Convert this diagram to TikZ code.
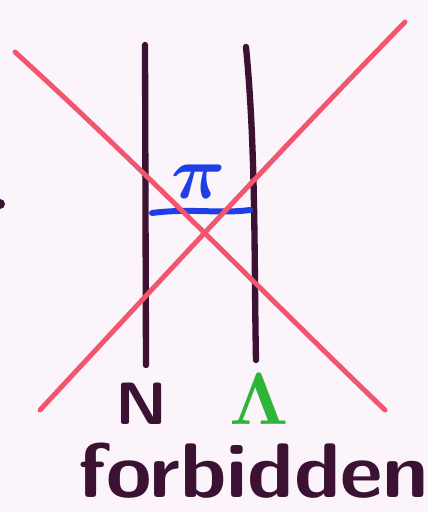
\documentclass[tikz,border=0pt]{standalone}
\usepackage{amsmath, amssymb}
\usepackage{fontspec}
\usepackage{tikz}
\definecolor{ink}{HTML}{3B1233}
\definecolor{cross}{HTML}{F2556E}
\definecolor{pion}{HTML}{1E3FE6}
\definecolor{lam}{HTML}{2FB43A}
\definecolor{paper}{HTML}{FBF4FA}
\tikzset{
  fermion/.style={ink, line width=3.6pt, line cap=round},
  strike/.style={cross, line width=2.8pt, line cap=round},
  tag/.style={inner sep=0pt, font=\fontsize{34}{40}\selectfont\sffamily\bfseries},
  sym/.style={inner sep=0pt, font=\normalsize},
}
\begin{document}
\begin{tikzpicture}[x=0.02cm, y=-0.02cm]

% paper
\fill[paper] (0,0) rectangle (428,512);
\useasboundingbox (0,0) rectangle (428,512);

% stray dot at the edge
\fill[ink] (0,204) circle (5);

% baryon lines
\coordinate (nTop) at (145,45);
\coordinate (nBot) at (146,365);
\coordinate (lTop) at (246,47);
\coordinate (lBot) at (256,360);
\draw[fermion] (nTop) -- (nBot);
\draw[fermion] (lTop) .. controls (256,150) and (254,260) .. (lBot);

% pion exchange
\coordinate (piL) at (152,213);
\coordinate (piR) at (250,210);
\draw[pion, line width=3.4pt, line cap=round] (piL) .. controls (190,208) and (220,214) .. (piR);
\node[pion, sym] (pi) at (199,182) {\scalebox{4.3}{$\boldsymbol{\pi}$}};

% labels
\node[ink, tag, anchor=base, xscale=1.1] (N) at (142,424) {N};
\node[lam, sym, anchor=base] (L) at (259,424) {\scalebox{4.2}{$\boldsymbol{\Lambda}$}};
\node[ink, tag, anchor=base, xscale=1.07, font=\fontsize{44}{50}\selectfont\sffamily\bfseries] (forb) at (254,497) {forbidden};

% the cross
\coordinate (x1) at (15,52);
\coordinate (x2) at (385,410);
\coordinate (y1) at (40,410);
\coordinate (y2) at (405,22);
\draw[strike] (x1) .. controls (150,175) and (260,290) .. (x2);
\draw[strike] (y1) .. controls (170,270) and (290,140) .. (y2);

\end{tikzpicture}
\end{document}
